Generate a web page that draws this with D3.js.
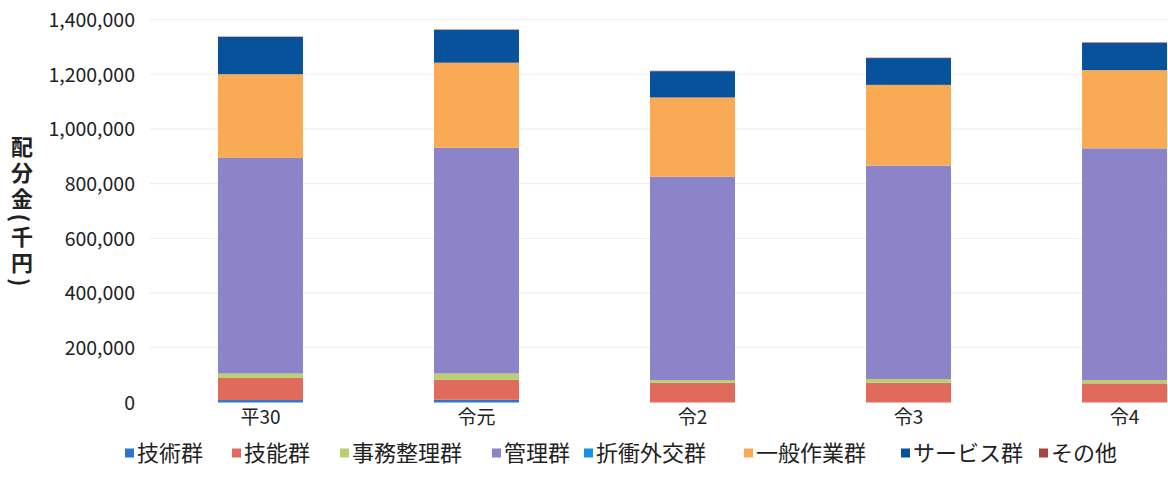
<!DOCTYPE html>
<html>
<head>
<meta charset="utf-8">
<script src="https://cdn.jsdelivr.net/npm/d3@7"></script>
<style>
  html, body { margin: 0; padding: 0; background: #ffffff; }
  svg text { font-family: "Noto Sans CJK JP", "Noto Sans", sans-serif; fill: #222; }
</style>
</head>
<body>
<svg id="chart" width="1168" height="494"></svg>
<script>
// 年度
const years = ["平30", "令元", "令2", "令3", "令4"];

// 職種群ごとの配分金(千円)
const seriesNames = ["技術群", "技能群", "事務整理群", "管理群", "折衝外交群", "一般作業群", "サービス群", "その他"];
const gijutsu    = [9000, 10000, 0, 0, 0];
const ginou      = [81000, 73000, 72000, 72000, 70000];
const jimu       = [16000, 23000, 10000, 14000, 12000];
const kanri      = [788000, 825000, 743000, 780000, 847000];
const sesshou    = [0, 0, 0, 0, 0];
const ippan      = [306000, 311000, 290000, 295000, 286000];
const service    = [136000, 120000, 96000, 98000, 100000];
const sonota     = [1500, 1500, 1500, 1500, 1500];

const yTicks = [0, 200000, 400000, 600000, 800000, 1000000, 1200000, 1400000];

const seriesValues = [gijutsu, ginou, jimu, kanri, sesshou, ippan, service, sonota];
const colors = ["#2a78cc", "#e06a5c", "#b9cf72", "#8c84c8", "#1493e0", "#f8aa55", "#07529b", "#a8443f"];

const rows = years.map((y, i) => {
  const r = { year: y };
  seriesNames.forEach((s, k) => { r[s] = seriesValues[k][i]; });
  return r;
});

const svg = d3.select("#chart");

const x = d3.scaleBand().domain(years).range([152.5, 1232.5])
  .paddingInner(0.6065).paddingOuter(0.303);
const y = d3.scaleLinear().domain([0, 1400000]).range([402.5, 19.5]);

// 目盛り線
svg.append("g").selectAll("line").data(yTicks.filter(t => t > 0)).join("line")
  .attr("x1", 150).attr("x2", 1168)
  .attr("y1", d => y(d)).attr("y2", d => y(d))
  .attr("stroke", "#ededed").attr("stroke-width", 1);

// 積み上げ棒
const stacked = d3.stack().keys(seriesNames)(rows);
svg.append("g").selectAll("g").data(stacked).join("g")
  .attr("fill", (d, i) => colors[i])
  .selectAll("rect").data(d => d).join("rect")
  .attr("x", d => x(d.data.year))
  .attr("width", x.bandwidth())
  .attr("y", d => y(d[1]))
  .attr("height", d => Math.max(0, y(d[0]) - y(d[1])));

// 縦軸
const yAxis = svg.append("g").attr("transform", "translate(150,0)")
  .call(d3.axisLeft(y).tickValues(yTicks).tickFormat(d3.format(",")).tickSize(0).tickPadding(15));
yAxis.select(".domain").remove();
yAxis.selectAll("text").style("font-size", "19.5px").attr("fill", "#222").attr("dy", "0.35em");

// 横軸
const xAxis = svg.append("g").attr("transform", "translate(0,402.5)")
  .call(d3.axisBottom(x).tickSize(0).tickPadding(2));
xAxis.select(".domain").remove();
xAxis.selectAll("text").style("font-size", "19px").attr("fill", "#222").attr("dy", "1em");

// 縦軸タイトル
svg.append("text")
  .attr("x", 22).attr("y", 213)
  .attr("text-anchor", "middle")
  .style("writing-mode", "vertical-rl")
  .style("font-size", "22px").style("font-weight", "700")
  .style("letter-spacing", "4px")
  .text("配分金(千円)");

// 凡例
const legendX = [125, 232, 340, 492, 584, 744, 901, 1039];
const legend = svg.append("g").selectAll("g").data(seriesNames).join("g")
  .attr("transform", (d, i) => `translate(${legendX[i]},453)`);
legend.append("rect").attr("x", 0).attr("y", -4.5).attr("width", 9).attr("height", 9)
  .attr("fill", (d, i) => colors[i]);
legend.append("text").attr("x", 12).attr("y", 0).attr("dy", "0.35em")
  .style("font-size", "22px").text(d => d);
</script>
</body>
</html>
